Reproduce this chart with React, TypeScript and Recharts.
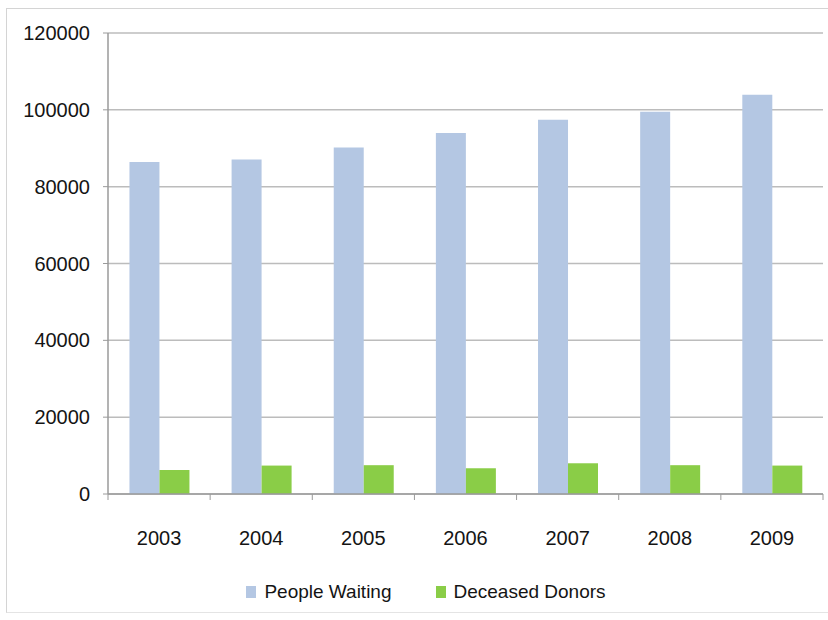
import React from 'react';
import { BarChart, Bar, XAxis, YAxis, CartesianGrid, Legend } from 'recharts';

const years = ['2003', '2004', '2005', '2006', '2007', '2008', '2009'];
const peopleWaiting = [86400, 87100, 90200, 94000, 97400, 99500, 103900];
const deceasedDonors = [6250, 7400, 7500, 6700, 8000, 7500, 7400];
const yTicks = [0, 20000, 40000, 60000, 80000, 100000, 120000];
const seriesOrder = ['pw', 'dd'];

const BLUE = '#B4C7E3';
const GREEN = '#8ACD47';
const AXIS = '#9a9a9a';
const TEXT = '#141414';
const FONT = '"Liberation Sans", Arial, sans-serif';

const data = years.map((y, i) => ({
  year: y,
  pw: peopleWaiting[i],
  dd: deceasedDonors[i],
}));

const XTick = (props: any) => {
  const { x, y, payload, index, visibleTicksCount } = props;
  const half = payload && payload.offset ? payload.offset : 0;
  const axisY = y - 6 - 31;
  const last = index === (visibleTicksCount ?? years.length) - 1;
  return (
    <g>
      <line x1={x - half} x2={x - half} y1={axisY} y2={axisY + 6} stroke={AXIS} />
      {last && <line x1={x + half} x2={x + half} y1={axisY} y2={axisY + 6} stroke={AXIS} />}
      <text x={x} y={y} dy="0.71em" textAnchor="middle" fill={TEXT} fontSize={20} fontFamily={FONT}>
        {payload.value}
      </text>
    </g>
  );
};

const LegendContent = (props: any) => {
  const payload = [...(props.payload || [])].sort(
    (a: any, b: any) => seriesOrder.indexOf(a.dataKey) - seriesOrder.indexOf(b.dataKey)
  );
  return (
    <div
      style={{
        width: 828,
        height: 52,
        display: 'flex',
        alignItems: 'flex-end',
        justifyContent: 'center',
        paddingLeft: 24,
        paddingBottom: 2,
        boxSizing: 'border-box',
      }}
    >
      {payload.map((p: any, i: number) => (
        <div
          key={i}
          style={{
            display: 'flex',
            alignItems: 'center',
            marginRight: i < payload.length - 1 ? 44 : 0,
            height: 24,
          }}
        >
          <span style={{ display: 'inline-block', width: 10, height: 12, background: p.color, marginRight: 8 }} />
          <span style={{ fontFamily: FONT, fontSize: 19, color: TEXT }}>{p.value}</span>
        </div>
      ))}
    </div>
  );
};

export default function App() {
  return (
    <div style={{ position: 'absolute', left: 0, top: 0, width: 828, height: 620, background: '#fff', overflow: 'hidden' }}>
      <div
        style={{
          position: 'absolute',
          left: 6,
          top: 8,
          width: 840,
          height: 603,
          borderTop: '1px solid #d4d4d4',
          borderLeft: '1px solid #d4d4d4',
          borderBottom: '1px solid #e4e4e4',
        }}
      />
      <BarChart
        width={828}
        height={620}
        data={data}
        margin={{ top: 33, right: 5, left: 8, bottom: 14 }}
        barCategoryGap="21%"
        barGap={0}
      >
        <CartesianGrid vertical={false} stroke="#bcbcbc" strokeWidth={1.5} />
        <XAxis
          dataKey="year"
          height={60}
          tickLine={false}
          axisLine={{ stroke: AXIS, strokeWidth: 1.5 }}
          tickSize={6}
          tickMargin={31}
          interval={0}
          tick={<XTick />}
        />
        <YAxis
          width={100}
          domain={[0, 120000]}
          ticks={yTicks}
          interval={0}
          tickSize={5}
          tickMargin={13}
          tickLine={{ stroke: AXIS }}
          axisLine={{ stroke: AXIS, strokeWidth: 1.5 }}
          tick={{ fill: TEXT, fontSize: 20, fontFamily: FONT }}
        />
        <Legend verticalAlign="bottom" height={52} content={<LegendContent />} wrapperStyle={{ left: 0, width: 828 }} />
        <Bar dataKey="pw" name="People Waiting" fill={BLUE} isAnimationActive={false} />
        <Bar dataKey="dd" name="Deceased Donors" fill={GREEN} isAnimationActive={false} />
      </BarChart>
    </div>
  );
}
